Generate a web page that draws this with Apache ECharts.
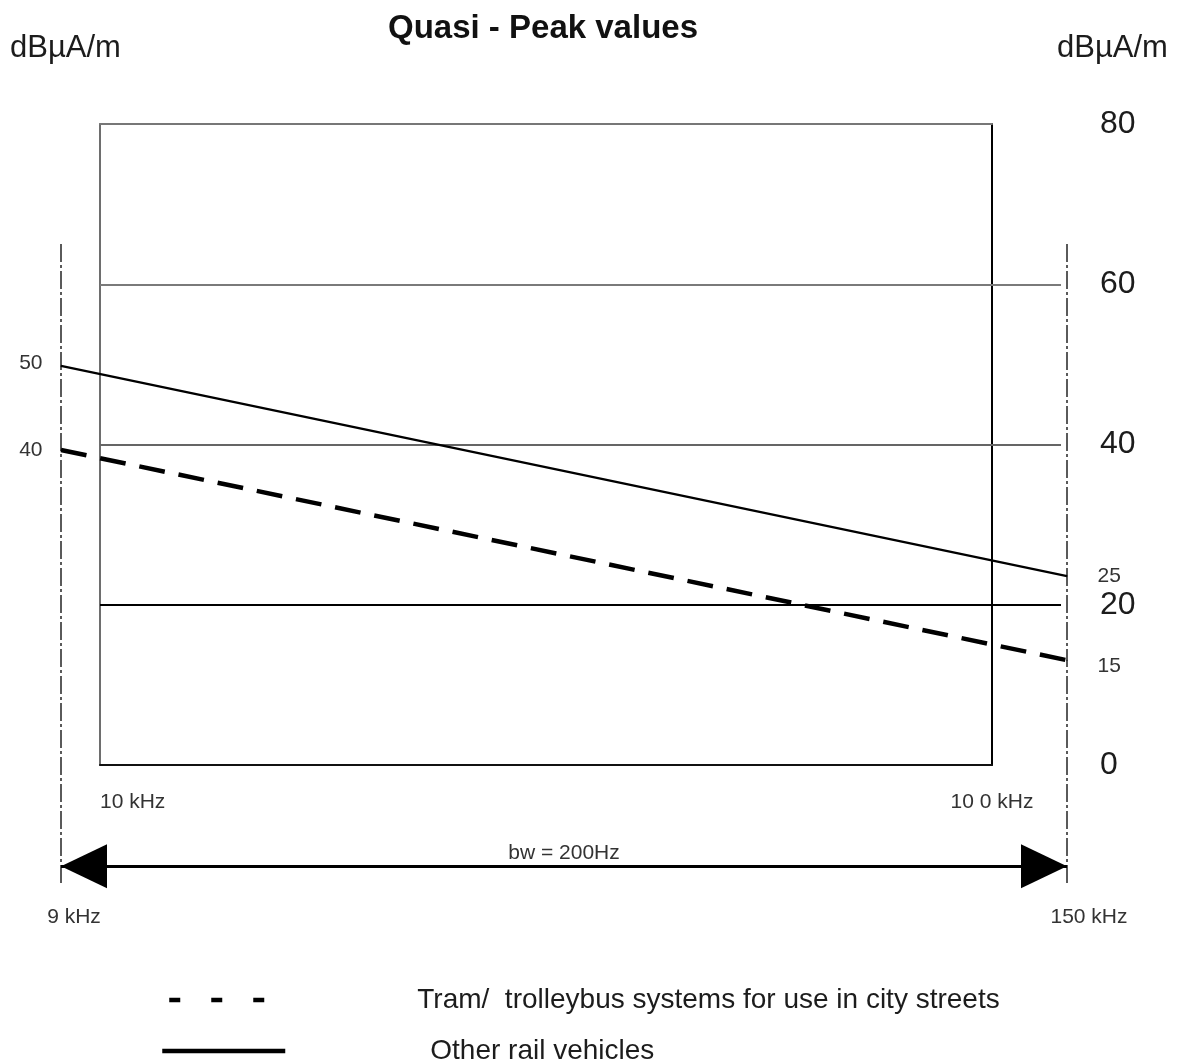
<!DOCTYPE html>
<html>
<head>
<meta charset="utf-8">
<title>Quasi - Peak values</title>
<script src="https://cdn.jsdelivr.net/npm/echarts@6/dist/echarts.min.js"></script>
<style>
  html, body { margin: 0; padding: 0; background: #ffffff; }
  #chart { width: 1180px; height: 1062px; }
</style>
</head>
<body>
<div id="chart"></div>
<script>
// H-field emission limits, quasi-peak detector, 9 kHz to 150 kHz
const limitFreqKHz = [9, 150];        // band edges of the limit lines
const tramLimit = [40, 15];           // dBµA/m at 9 kHz and 150 kHz
const railLimit = [50, 25];           // dBµA/m at 9 kHz and 150 kHz
const boxFreqKHz = [10, 100];         // frequency span of the reference box
const levelTicks = [0, 20, 40, 60, 80];
const levelGridLines = [20, 40, 60];
const bandArrowLevel = -9.5;          // level of the bandwidth arrow, below 0 dBµA/m

const TRAM = 'Tram/  trolleybus systems for use in city streets';
const RAIL = 'Other rail vehicles';
const FONT = '"Liberation Sans", Arial, Helvetica, sans-serif';
const INK = '#1c1c1c';
const GREY = '#777777';

const gridLineStyle = {
  20: { color: '#000000', width: 2, type: 'solid' },
  40: { color: '#656565', width: 2, type: 'solid' },
  60: { color: '#7a7a7a', width: 2, type: 'solid' }
};

const chart = echarts.init(document.getElementById('chart'), null, { renderer: 'canvas' });

const pointLabel = (i, extra) => Object.assign(
  i === 0
    ? { show: true, position: 'left', distance: 18 }
    : { show: true, position: 'right', distance: 30 },
  { formatter: '{@[1]}', fontSize: 21, color: '#333333', fontFamily: FONT },
  extra || {}
);

const limitData = (values, extraFirst, extraLast) => limitFreqKHz.map((f, i) => ({
  value: [f, values[i]],
  label: pointLabel(i, i === 0 ? extraFirst : extraLast)
}));

const option = {
  animation: false,
  backgroundColor: '#ffffff',
  textStyle: { fontFamily: FONT },
  title: [
    { text: 'Quasi - Peak values', left: 388, top: 12, padding: 0,
      textStyle: { fontSize: 33, fontWeight: 'bold', color: '#111111', fontFamily: FONT } },
    { text: 'dBµA/m', left: 10, top: 33, padding: 0,
      textStyle: { fontSize: 31, fontWeight: 'normal', color: INK, fontFamily: FONT } },
    { text: 'dBµA/m', left: 1057, top: 33, padding: 0,
      textStyle: { fontSize: 31, fontWeight: 'normal', color: INK, fontFamily: FONT } }
  ],
  legend: [
    {
      data: [{ name: TRAM, lineStyle: { type: [11, 31], width: 4.5, color: '#000' } }],
      left: 167, top: 986, padding: 0, orient: 'vertical',
      itemWidth: 97, itemHeight: 14, selectedMode: false,
      itemStyle: { opacity: 0, color: 'transparent', borderWidth: 0 },
      textStyle: { fontSize: 28, color: INK, fontFamily: FONT, padding: [0, 0, 0, 146] }
    },
    {
      data: [{ name: RAIL, lineStyle: { type: 'solid', width: 4.5, color: '#000' } }],
      left: 160, top: 1037, padding: 0, orient: 'vertical',
      itemWidth: 123, itemHeight: 14, selectedMode: false,
      itemStyle: { opacity: 0, color: 'transparent', borderWidth: 0 },
      textStyle: { fontSize: 28, color: INK, fontFamily: FONT, padding: [0, 0, 0, 140] }
    }
  ],
  grid: [
    // reference box, 10 kHz to 100 kHz, 0 to 80 dBµA/m
    { left: 100, top: 124, width: 892, height: 641 },
    // level lines running out past the box
    { left: 100, top: 124, width: 961, height: 641 },
    // limit lines, 9 kHz to 150 kHz
    { left: 61, top: 244, width: 1006, height: 639 }
  ],
  xAxis: [
    {
      gridIndex: 0, type: 'log', logBase: 10, min: boxFreqKHz[0], max: boxFreqKHz[1],
      position: 'bottom',
      axisLine: { show: true, onZero: false, lineStyle: { color: '#111111', width: 2 } },
      axisTick: { show: false }, splitLine: { show: false }, minorTick: { show: false },
      axisLabel: {
        show: true, margin: 27, fontSize: 21, color: '#333333', fontFamily: FONT,
        alignMinLabel: 'left', alignMaxLabel: 'center',
        formatter: v => (v === boxFreqKHz[0] ? '10 kHz' : '10 0 kHz')
      }
    },
    {
      gridIndex: 0, type: 'value', min: 0, max: 1, position: 'top',
      axisLine: { show: true, onZero: false, lineStyle: { color: GREY, width: 2 } },
      axisTick: { show: false }, axisLabel: { show: false }, splitLine: { show: false }
    },
    { gridIndex: 1, type: 'value', min: 0, max: 1, show: false },
    { gridIndex: 2, type: 'log', logBase: 10, min: limitFreqKHz[0], max: limitFreqKHz[1], show: false }
  ],
  yAxis: [
    {
      gridIndex: 0, type: 'value', min: levelTicks[0], max: levelTicks[levelTicks.length - 1],
      interval: levelTicks[1] - levelTicks[0], position: 'right',
      axisLine: { show: true, onZero: false, lineStyle: { color: '#000000', width: 2 } },
      axisTick: { show: false }, splitLine: { show: false },
      axisLabel: { show: true, margin: 108, fontSize: 32, color: INK, fontFamily: FONT, align: 'left' }
    },
    {
      gridIndex: 0, type: 'value', min: levelTicks[0], max: levelTicks[levelTicks.length - 1],
      position: 'left',
      axisLine: { show: true, onZero: false, lineStyle: { color: '#6e6e6e', width: 2 } },
      axisTick: { show: false }, axisLabel: { show: false }, splitLine: { show: false }
    },
    { gridIndex: 1, type: 'value', min: levelTicks[0], max: levelTicks[levelTicks.length - 1], show: false },
    { gridIndex: 2, type: 'value', min: -11.5, max: 64.5, show: false }
  ],
  series: [
    {
      name: 'levels', type: 'line', xAxisIndex: 2, yAxisIndex: 2, data: [],
      silent: true, z: 1,
      markLine: {
        silent: true, symbol: 'none', label: { show: false },
        data: levelGridLines.map(v => ({ yAxis: v, lineStyle: gridLineStyle[v] }))
      }
    },
    {
      name: 'band', type: 'line', xAxisIndex: 3, yAxisIndex: 3, data: [],
      silent: true, z: 3,
      markLine: {
        silent: true, symbol: 'none',
        data: [
          // band edges, dash-dot
          ...limitFreqKHz.map((f, i) => ({
            xAxis: f,
            lineStyle: { color: '#5a5a5a', width: 2, type: [18, 3, 3, 3] },
            label: {
              show: true, position: 'start', distance: 24,
              formatter: f + ' kHz', fontSize: 21, color: '#333333', fontFamily: FONT,
              padding: i === 0 ? [0, 0, 0, 26] : [0, 0, 0, 44]
            }
          })),
          // bandwidth arrow between the band edges
          [
            { coord: [limitFreqKHz[0], bandArrowLevel], symbol: 'triangle', symbolSize: [44, 46], symbolOffset: [0, 23] },
            { coord: [limitFreqKHz[1], bandArrowLevel], symbol: 'triangle', symbolSize: [44, 46], symbolOffset: [0, 23],
              lineStyle: { color: '#000000', width: 3, type: 'solid' },
              label: { show: true, position: 'insideMiddleTop', distance: 2, formatter: 'bw = 200Hz',
                       fontSize: 21, color: '#333333', fontFamily: FONT } }
          ],
          [
            { coord: [limitFreqKHz[0], bandArrowLevel], symbol: 'none' },
            { coord: [limitFreqKHz[1], bandArrowLevel], symbol: 'none',
              lineStyle: { color: '#000000', width: 0, opacity: 0 },
              label: { show: true, position: 'insideMiddleBottom', distance: 24, formatter: 'H Field',
                       fontSize: 21, color: '#333333', fontFamily: FONT } }
          ]
        ]
      }
    },
    {
      name: TRAM, type: 'line', xAxisIndex: 3, yAxisIndex: 3,
      data: limitData(tramLimit, null, { offset: [0, 6] }),
      symbol: 'circle', symbolSize: 1, showSymbol: true, clip: false, z: 5,
      itemStyle: { color: '#000000' },
      lineStyle: { color: '#000000', width: 4.5, type: [26, 14] }
    },
    {
      name: RAIL, type: 'line', xAxisIndex: 3, yAxisIndex: 3,
      data: limitData(railLimit, { offset: [0, -3] }, null),
      symbol: 'circle', symbolSize: 1, showSymbol: true, clip: false, z: 5,
      itemStyle: { color: '#000000' },
      lineStyle: { color: '#000000', width: 2.2, type: 'solid' }
    }
  ]
};

chart.setOption(option);
</script>
</body>
</html>
